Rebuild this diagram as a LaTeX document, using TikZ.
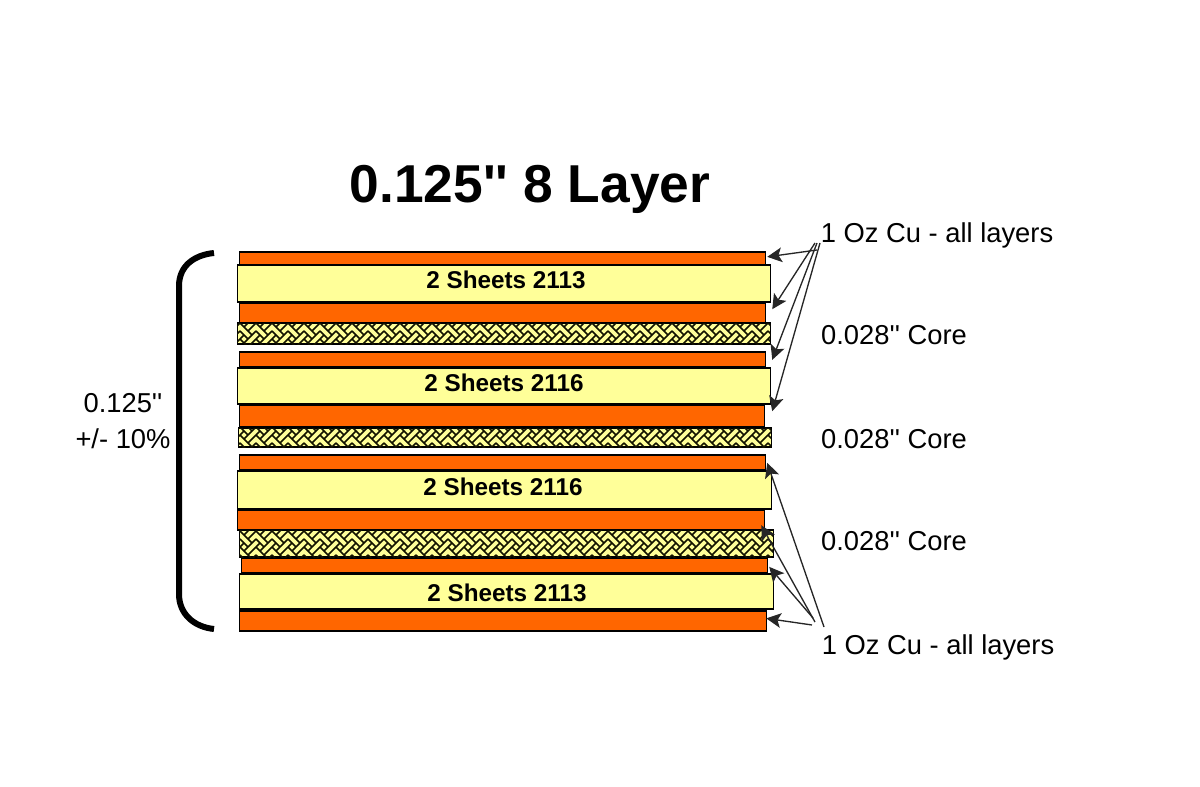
\documentclass[tikz,border=0pt]{standalone}
\usepackage{fontspec}
\setmainfont{Liberation Sans}
\usetikzlibrary{arrows.meta,patterns}

\pgfdeclarepatternformonly{weave}{\pgfpoint{-1pt}{-1pt}}{\pgfpoint{13pt}{13pt}}{\pgfpoint{12pt}{12pt}}{
	\pgfsetlinewidth{1.15pt}
	\pgfpathmoveto{\pgfpoint{0pt}{0pt}}\pgfpathlineto{\pgfpoint{3pt}{3pt}}\pgfpathlineto{\pgfpoint{0pt}{6pt}}
	\pgfpathmoveto{\pgfpoint{6pt}{0pt}}\pgfpathlineto{\pgfpoint{3pt}{3pt}}
	\pgfpathmoveto{\pgfpoint{6pt}{0pt}}\pgfpathlineto{\pgfpoint{12pt}{6pt}}
	\pgfpathmoveto{\pgfpoint{9pt}{3pt}}\pgfpathlineto{\pgfpoint{0pt}{12pt}}
	\pgfpathmoveto{\pgfpoint{6pt}{6pt}}\pgfpathlineto{\pgfpoint{12pt}{12pt}}
	\pgfpathmoveto{\pgfpoint{3pt}{9pt}}\pgfpathlineto{\pgfpoint{6pt}{12pt}}
	\pgfusepath{stroke}
}

\definecolor{copper}{RGB}{255,102,0}
\definecolor{prepreg}{RGB}{255,255,153}
\newcommand{\inchmark}{\textquotesingle\textquotesingle}

\tikzset{every picture/.style={line width=0.75pt},
	layer/.style 2 args={draw=black,line width=1.3pt,inner sep=0pt,anchor=north west,minimum width=#1*0.75pt,minimum height=#2*0.75pt},
	cu/.style={fill=copper},
	pp/.style={fill=prepreg},
	core/.style={fill=prepreg,postaction={pattern=weave,pattern color=black!85!olive}},
	lead/.style={draw=black!85,line width=1pt,-{Stealth[length=11pt,width=11pt,inset=2.5pt]}},
	label/.style={inner sep=0pt,font=\fontsize{20.5}{24}\selectfont,align=center},
	sheet/.style={inner sep=0pt,font=\fontsize{18.2}{20}\selectfont\bfseries}
}

\begin{document}
\begin{tikzpicture}[x=0.75pt,y=0.75pt,yscale=-1,xscale=1]
	\useasboundingbox (0,0) rectangle (1200,787);
	
	%Shape: Copper
	\node [layer={526}{13},cu] (cuA) at (238.5,251.5) {};
	\node [layer={526}{20},cu] (cuB) at (238.5,302.5) {};
	\node [layer={526}{15},cu] (cuC) at (238.5,351.5) {};
	\node [layer={525}{22},cu] (cuD) at (238.5,404.5) {};
	\node [layer={526}{15},cu] (cuE) at (238.5,454.5) {};
	\node [layer={527}{20},cu] (cuF) at (236.5,509.5) {};
	\node [layer={526}{15},cu] (cuG) at (240.5,557.5) {};
	\node [layer={527}{20},cu] (cuH) at (238.5,610.5) {};
	%Shape: Prepreg
	\node [layer={533}{37},pp] (ppA) at (236.5,264.5) {};
	\node [layer={533}{36},pp] (ppB) at (236.5,367.5) {};
	\node [layer={534}{38},pp] (ppC) at (236.5,470.5) {};
	\node [layer={534}{35},pp] (ppD) at (238.5,573.5) {};
	%Shape: Core
	\node [layer={533}{21},core] (coreA) at (236.5,322.5) {};
	\node [layer={533}{19},core] (coreB) at (237.5,427.5) {};
	\node [layer={534}{27},core] (coreC) at (238.5,529.5) {};
	
	% Text Node
	\node [inner sep=0pt,font=\fontsize{40}{44}\selectfont\bfseries] (title) at (530,189) {0.125\inchmark{} 8 Layer};
	\node [sheet] (sheetA) at (506,280) {2 Sheets 2113};
	\node [sheet] (sheetB) at (504,383) {2 Sheets 2116};
	\node [sheet] (sheetC) at (503,487) {2 Sheets 2116};
	\node [sheet] (sheetD) at (507,593) {2 Sheets 2113};
	\node [label] (cuTop) at (937,235) {1 Oz Cu - all layers};
	\node [label] (cuBot) at (938,647) {1 Oz Cu - all layers};
	\node [label] (coreTextA) at (894,335) {0.028\inchmark{} Core};
	\node [label] (coreTextB) at (894,439) {0.028\inchmark{} Core};
	\node [label] (coreTextC) at (894,541) {0.028\inchmark{} Core};
	\node [label] (thick) at (123,421) {0.125\inchmark\\[3.5pt]+/- 10\%};
	
	%Straight Lines
	\coordinate (topA) at (817,250);
	\coordinate (topB) at (815,243);
	\coordinate (topC) at (817,243);
	\coordinate (topD) at (820,243);
	\coordinate (botA) at (824,627);
	\coordinate (botB) at (815,622);
	\coordinate (botC) at (813,618);
	\coordinate (botD) at (812,625);
	\draw [lead] (topA) -- ([shift={(1,-2)}]cuA.east);
	\draw [lead] (topB) -- ([shift={(1,6)}]ppA.south east);
	\draw [lead] (topC) -- ([shift={(6,0)}]cuC.east);
	\draw [lead] (topD) -- ([shift={(1,6)}]ppB.south east);
	\draw [lead] (botA) -- ([shift={(1,0)}]cuE.east);
	\draw [lead] (botB) -- ([shift={(-4,-6)}]cuF.south east);
	\draw [lead] (botC) -- ([shift={(1,1)}]cuG.east);
	\draw [lead] (botD) -- ([shift={(-1,-3)}]cuH.east);
	
	%Shape: Bracket
	\draw [line width=4.5pt] (214,253) .. controls (194,255) and (179,266) .. (179,286) -- (179,594) .. controls (179,614) and (194,627) .. (214,629);
\end{tikzpicture}
\end{document}
